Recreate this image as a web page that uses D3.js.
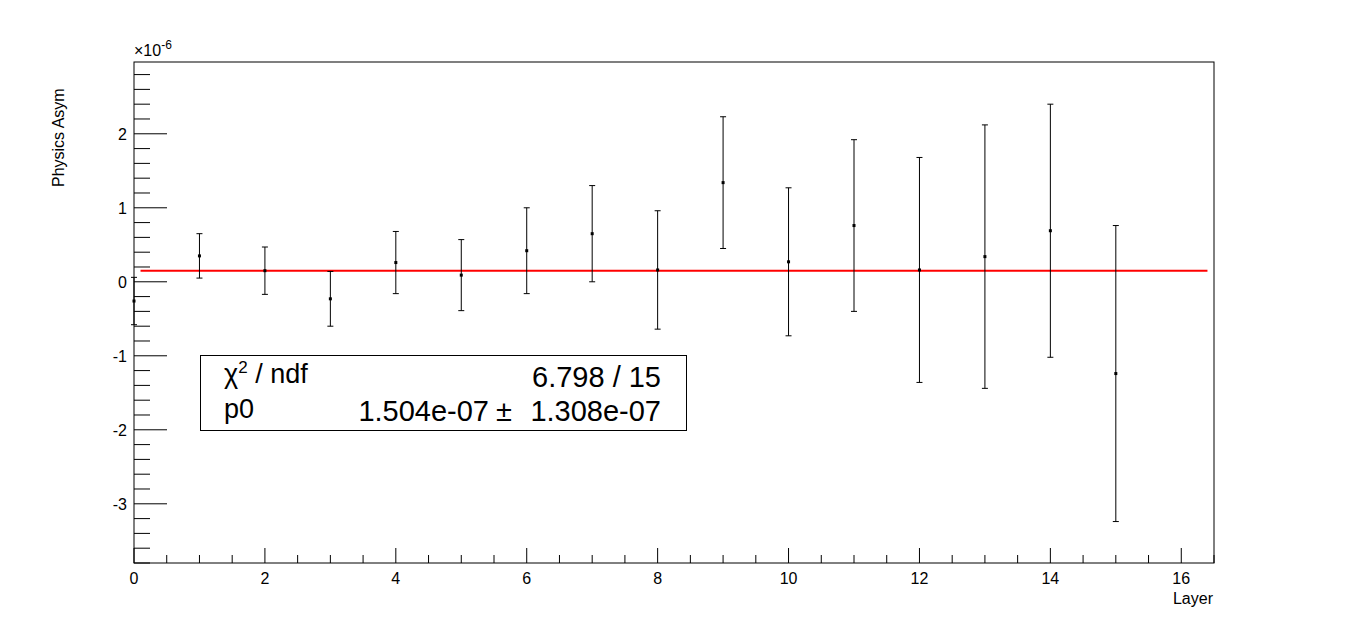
<!DOCTYPE html>
<meta charset="utf-8">
<head>
<title>Physics Asym</title>
<script src="https://cdn.jsdelivr.net/npm/d3@7"></script>
<style>
  body { margin:0; background:#fff; }
  text { font-family: "Liberation Sans", Arial, sans-serif; }
</style>
</head>
<body>
<div id="chart"></div>
<script>
// data (y in units of 1e-6)
var layers = [0,1,2,3,4,5,6,7,8,9,10,11,12,13,14,15]
var asym   = [-0.26,0.35,0.15,-0.23,0.26,0.09,0.42,0.65,0.16,1.34,0.27,0.76,0.16,0.34,0.69,-1.24]
var errs   = [0.32,0.30,0.32,0.37,0.42,0.48,0.58,0.65,0.80,0.89,1.00,1.16,1.52,1.78,1.71,2.00]
var fitP0 = 0.1504
var fitRange = [0.1, 16.4]
var xTicks = [0,2,4,6,8,10,12,14,16]
var yTicks = [-3,-2,-1,0,1,2]

var W = 1348, H = 627
var m = {left:134, right:1214, top:62, bottom:563}

var svg = d3.select("#chart").append("svg").attr("width",W).attr("height",H)

var x = d3.scaleLinear().domain([0,16.5]).range([m.left,m.right])
var y = d3.scaleLinear().domain([-3.8,2.97]).range([m.bottom,m.top])

svg.append("rect").attr("x",m.left).attr("y",m.top)
  .attr("width",m.right-m.left).attr("height",m.bottom-m.top)
  .attr("fill","none").attr("stroke","black").attr("stroke-width",1)

// x ticks
var xMinor = d3.range(0,16.51,0.5)
svg.append("g").selectAll("line").data(xMinor).enter().append("line")
  .attr("x1",d=>x(d)).attr("x2",d=>x(d))
  .attr("y1",m.bottom).attr("y2",d=>m.bottom-(d%2===0?15:8))
  .attr("stroke","black")
svg.append("g").selectAll("text").data(xTicks).enter().append("text")
  .attr("x",d=>x(d)).attr("y",m.bottom+21).attr("text-anchor","middle")
  .attr("font-size",16).text(d=>d)

// y ticks
var yMinor = d3.range(-3.8,2.97,0.2).map(d=>Math.round(d*10)/10)
svg.append("g").selectAll("line").data(yMinor).enter().append("line")
  .attr("y1",d=>y(d)).attr("y2",d=>y(d))
  .attr("x1",m.left).attr("x2",d=>m.left+(Math.abs(d-Math.round(d))<0.01?33:16))
  .attr("stroke","black")
svg.append("g").selectAll("text").data(yTicks).enter().append("text")
  .attr("x",m.left-7).attr("y",d=>y(d)+6).attr("text-anchor","end")
  .attr("font-size",16).text(d=>d)

var ex = svg.append("text").attr("x",m.left).attr("y",m.top-6).attr("font-size",16)
ex.append("tspan").text("\u00d710")
ex.append("tspan").attr("dy",-7).attr("font-size",12).text("-6")

svg.append("text").attr("transform","translate(64,"+(m.top+125)+") rotate(-90)")
  .attr("font-size",16).text("Physics Asym")
svg.append("text").attr("x",m.right-1).attr("y",604).attr("text-anchor","end")
  .attr("font-size",16).text("Layer")

// fit line
svg.append("line").attr("x1",x(fitRange[0])).attr("x2",x(fitRange[1]))
  .attr("y1",y(fitP0)).attr("y2",y(fitP0)).attr("stroke","#ff0000").attr("stroke-width",2)

// points with errors
var pts = svg.append("g").selectAll("g").data(layers).enter().append("g")
pts.append("line").attr("x1",d=>x(d)).attr("x2",d=>x(d))
  .attr("y1",(d,i)=>y(asym[i]+errs[i])).attr("y2",(d,i)=>y(asym[i]-errs[i])).attr("stroke","black")
pts.append("line").attr("x1",d=>x(d)-3).attr("x2",d=>x(d)+3)
  .attr("y1",(d,i)=>y(asym[i]+errs[i])).attr("y2",(d,i)=>y(asym[i]+errs[i])).attr("stroke","black")
pts.append("line").attr("x1",d=>x(d)-3).attr("x2",d=>x(d)+3)
  .attr("y1",(d,i)=>y(asym[i]-errs[i])).attr("y2",(d,i)=>y(asym[i]-errs[i])).attr("stroke","black")
pts.append("rect").attr("x",d=>x(d)-1.5).attr("y",(d,i)=>y(asym[i])-1.5)
  .attr("width",3).attr("height",3).attr("fill","black")

// stats box
var sb = svg.append("g")
sb.append("rect").attr("x",200.5).attr("y",355.5).attr("width",486).attr("height",75)
  .attr("fill","white").attr("stroke","black")
var t1 = sb.append("text").attr("x",224).attr("y",383).attr("font-size",27)
t1.append("tspan").text("\u03c7")
t1.append("tspan").attr("dy",-10).attr("font-size",17).text("2")
t1.append("tspan").attr("dy",10).text(" / ndf")
sb.append("text").attr("x",661).attr("y",387).attr("text-anchor","end").attr("font-size",29).text("6.798 / 15")
sb.append("text").attr("x",224).attr("y",418).attr("font-size",27).text("p0")
sb.append("text").attr("x",489).attr("y",421).attr("text-anchor","end").attr("font-size",29).text("1.504e-07")
sb.append("text").attr("x",504).attr("y",421).attr("text-anchor","middle").attr("font-size",29).text("\u00b1")
sb.append("text").attr("x",661).attr("y",421).attr("text-anchor","end").attr("font-size",29).text("1.308e-07")
</script>
</body>
</html>
